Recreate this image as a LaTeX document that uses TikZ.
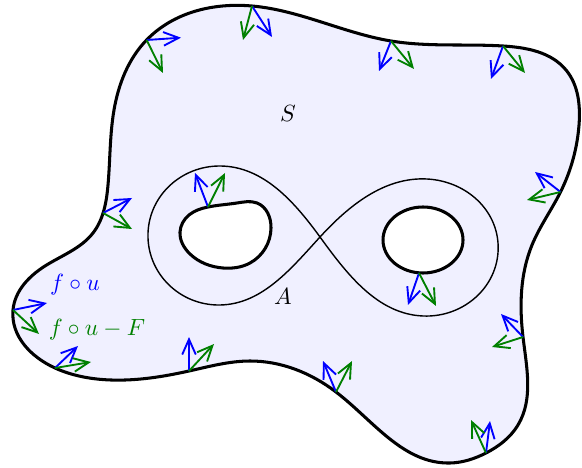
\documentclass[tikz,border=0pt]{standalone}
\usepackage{amsmath,amssymb}
\usetikzlibrary{arrows.meta,hobby}

\begin{document}
\begin{tikzpicture}[x=0.015cm,y=-0.015cm,
    bvec/.style={blue,thick,-{Straight Barb[length=6.5pt,width=5.8pt]}},
    gvec/.style={green!50!black,thick,-{Straight Barb[length=6.5pt,width=5.8pt]}}]
    \useasboundingbox (0,0) rectangle (582,468);
    % surface S with its two holes
    \filldraw[fill=blue!6,draw=black,line width=1.3pt,even odd rule]
        plot[closed hobby] coordinates {(108,185) (114,110) (146.6,40) (252,6) (391,41) (503,46) (566,70) (579,125) (560.5,192) (532,245) (523,337) (518,425) (486,453) (450,463) (336,392) (250,361) (189,371) (111,380) (55,368) (13,310) (45,266) (93,233)}
        plot[closed hobby] coordinates {(208,207) (237,203) (257,203) (271,228) (250,263) (223,268) (190,254) (180,232) (189,215)}
        (423,240) ellipse [x radius=40,y radius=33];
    % the curve A
    \draw[semithick] plot[closed hobby] coordinates {(320,237) (427,179) (498,243) (423,316) (320,237) (220,166) (148,233) (220,305)};
    \node (S) at (288,113) {$S$};
    \node (A) at (283,296) {$A$};
    \node[blue] (fu) at (75,285) {$f\circ u$};
    \node[green!50!black] (fuF) at (97,330) {$f\circ u-F$};
    % vectors along the boundary
    \foreach \p/\b/\g in {{146.6,40}/{181,37.7}/{163,73}, {252,6}/{272,37}/{243,40},
        {391,41}/{379,71}/{414,69}, {503,46}/{491,79}/{525,73},
        {560.5,192}/{535,172}/{527,200}, {523,337}/{501,314}/{492,347},
        {486,453}/{490,421}/{471,420}, {336,392}/{323,361}/{352,361},
        {189,371}/{189,337}/{214,344}, {55,368}/{78,346}/{91,362},
        {13,310}/{47,303}/{39,334}, {103,213}/{132,198}/{132,229},
        {208,207}/{195,173}/{225,173}, {419,273}/{408,305}/{436,306}}
    {
        \draw[bvec] (\p) -- (\b);
        \draw[gvec] (\p) -- (\g);
    }
\end{tikzpicture}
\end{document}
